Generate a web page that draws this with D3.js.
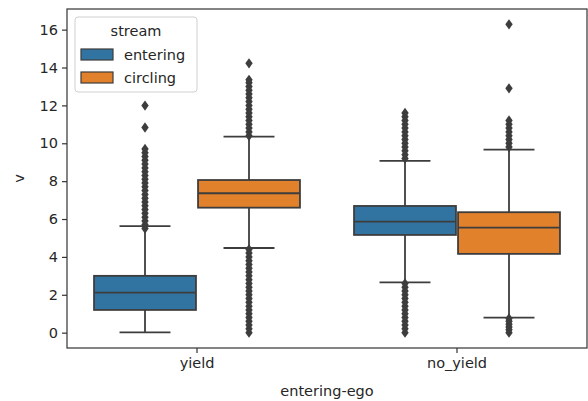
<!DOCTYPE html>
<html>
<head>
<meta charset="utf-8">
<script src="https://cdn.jsdelivr.net/npm/d3@7"></script>
<style>
  html, body { margin: 0; padding: 0; background: #fff; }
  svg { display: block; font-family: "DejaVu Sans", sans-serif; }
</style>
</head>
<body>
<svg id="chart" width="588" height="401"></svg>
<script>
// Categories on the x axis and hue levels
const categories = ["yield", "no_yield"];
const streams = ["entering", "circling"];
const yTicks = [0, 2, 4, 6, 8, 10, 12, 14, 16];

// Box statistics per stream, one value per category (yield, no_yield)
const enteringLow = [0.02, 2.66];
const enteringQ1 = [1.20, 5.16];
const enteringMedian = [2.11, 5.86];
const enteringQ3 = [3.00, 6.69];
const enteringHigh = [5.63, 9.07];

const circlingLow = [4.47, 0.79];
const circlingQ1 = [6.60, 4.16];
const circlingMedian = [7.36, 5.55];
const circlingQ3 = [8.06, 6.36];
const circlingHigh = [10.35, 9.66];

// Outlying observations
const enteringYieldOutliers = [5.5, 5.7, 5.9, 6.1, 6.3, 6.5, 6.7, 6.9, 7.1, 7.3, 7.5, 7.7, 7.9, 8.1, 8.3, 8.5, 8.7, 8.9, 9.1, 9.3, 9.5, 9.7, 10.83, 11.99];
const circlingYieldOutliers = [0.0, 0.2, 0.4, 0.6, 0.8, 1.0, 1.2, 1.4, 1.6, 1.8, 2.0, 2.2, 2.4, 2.6, 2.8, 3.0, 3.2, 3.4, 3.6, 3.8, 4.0, 4.2, 4.4,
  10.4, 10.6, 10.8, 11.0, 11.2, 11.4, 11.6, 11.8, 12.0, 12.2, 12.4, 12.6, 12.8, 13.0, 13.2, 13.35, 14.22];
const enteringNoYieldOutliers = [0.0, 0.2, 0.4, 0.6, 0.8, 1.0, 1.2, 1.4, 1.6, 1.8, 2.0, 2.2, 2.4, 2.6,
  9.2, 9.4, 9.6, 9.8, 10.0, 10.2, 10.4, 10.6, 10.8, 11.0, 11.2, 11.4, 11.6];
const circlingNoYieldOutliers = [0.0, 0.15, 0.3, 0.45, 0.6, 0.75,
  9.8, 10.0, 10.2, 10.4, 10.6, 10.8, 11.0, 11.2, 12.9, 16.28];

const colors = { entering: "#3274a1", circling: "#e1812c" };
const edge = "#3d3d3d";

const boxes = [];
categories.forEach((cat, i) => {
  boxes.push({ cat, stream: "entering", low: enteringLow[i], q1: enteringQ1[i], med: enteringMedian[i], q3: enteringQ3[i], high: enteringHigh[i],
    out: i === 0 ? enteringYieldOutliers : enteringNoYieldOutliers });
  boxes.push({ cat, stream: "circling", low: circlingLow[i], q1: circlingQ1[i], med: circlingMedian[i], q3: circlingQ3[i], high: circlingHigh[i],
    out: i === 0 ? circlingYieldOutliers : circlingNoYieldOutliers });
});

const svg = d3.select("#chart");
const m = { left: 67, right: 1, top: 9, bottom: 53 };
const W = 588, H = 401;

const x = d3.scaleBand().domain(categories).range([m.left, W - m.right]).paddingInner(0).paddingOuter(0);
const groupWidth = x.bandwidth() * 0.8;
const xs = d3.scaleBand().domain(streams).range([0, groupWidth]);
const boxW = xs.bandwidth() * 0.98;
const y = d3.scaleLinear().domain([-0.81, 17.09]).range([H - m.bottom, m.top]);

const font = 14.5;
const textColor = "#262626";
const lw = 1.8;

// Boxes, whiskers and fliers
const g = svg.append("g");
const diamond = "M0,-5.2L3.7,0L0,5.2L-3.7,0Z";

boxes.forEach(b => {
  const cx = x(b.cat) + x.bandwidth() / 2 - groupWidth / 2 + xs(b.stream) + xs.bandwidth() / 2;
  const bg = g.append("g");
  // whisker lines
  bg.append("line").attr("x1", cx).attr("x2", cx).attr("y1", y(b.q1)).attr("y2", y(b.low))
    .attr("stroke", edge).attr("stroke-width", lw);
  bg.append("line").attr("x1", cx).attr("x2", cx).attr("y1", y(b.q3)).attr("y2", y(b.high))
    .attr("stroke", edge).attr("stroke-width", lw);
  // caps
  [b.low, b.high].forEach(v => {
    bg.append("line").attr("x1", cx - boxW / 4).attr("x2", cx + boxW / 4).attr("y1", y(v)).attr("y2", y(v))
      .attr("stroke", edge).attr("stroke-width", lw);
  });
  // box
  bg.append("rect").attr("x", cx - boxW / 2).attr("width", boxW)
    .attr("y", y(b.q3)).attr("height", y(b.q1) - y(b.q3))
    .attr("fill", colors[b.stream]).attr("stroke", edge).attr("stroke-width", lw);
  // median
  bg.append("line").attr("x1", cx - boxW / 2).attr("x2", cx + boxW / 2).attr("y1", y(b.med)).attr("y2", y(b.med))
    .attr("stroke", edge).attr("stroke-width", lw);
  // fliers
  bg.selectAll("path.flier").data(b.out).enter().append("path")
    .attr("class", "flier")
    .attr("d", diamond)
    .attr("transform", d => `translate(${cx},${y(d)})`)
    .attr("fill", edge);
});

// Axes
const yAxis = d3.axisLeft(y).tickValues(yTicks).tickSize(5).tickPadding(4);
const yg = svg.append("g").attr("transform", `translate(${m.left},0)`).call(yAxis);
const xAxis = d3.axisBottom(x).tickSize(5).tickPadding(5);
const xg = svg.append("g").attr("transform", `translate(0,${H - m.bottom})`).call(xAxis);
[yg, xg].forEach(a => {
  a.select(".domain").remove();
  a.selectAll(".tick line").attr("stroke", "#333").attr("stroke-width", 1.2);
  a.selectAll(".tick text").attr("fill", textColor).style("font-size", font + "px").style("font-family", "DejaVu Sans");
});

// Frame
svg.append("rect").attr("x", m.left).attr("y", m.top)
  .attr("width", W - m.right - m.left).attr("height", H - m.bottom - m.top)
  .attr("fill", "none").attr("stroke", "#333").attr("stroke-width", 1.2);

// Axis labels
svg.append("text").attr("x", (m.left + W - m.right) / 2).attr("y", 396)
  .attr("text-anchor", "middle").attr("fill", textColor).style("font-size", font + "px")
  .text("entering-ego");
svg.append("text").attr("transform", `translate(24,${(m.top + H - m.bottom) / 2}) rotate(-90)`)
  .attr("text-anchor", "middle").attr("fill", textColor).style("font-size", font + "px")
  .text("v");

// Legend
const lg = svg.append("g").attr("transform", "translate(75,17)");
lg.append("rect").attr("width", 122).attr("height", 75).attr("rx", 3)
  .attr("fill", "#fff").attr("fill-opacity", 0.8).attr("stroke", "#d0d0d0").attr("stroke-width", 1);
lg.append("text").attr("x", 61).attr("y", 19).attr("text-anchor", "middle")
  .attr("fill", textColor).style("font-size", font + "px").text("stream");
streams.forEach((s, i) => {
  const row = lg.append("g").attr("transform", `translate(6,${32 + i * 23})`);
  row.append("rect").attr("width", 32).attr("height", 11)
    .attr("fill", colors[s]).attr("stroke", edge).attr("stroke-width", 1.2);
  row.append("text").attr("x", 43).attr("y", 10.5).attr("fill", textColor)
    .style("font-size", font + "px").text(s);
});
</script>
</body>
</html>
